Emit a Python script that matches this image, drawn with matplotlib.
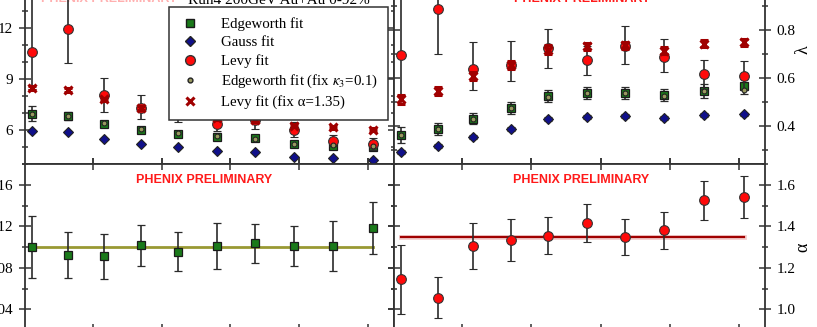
import numpy as np
import matplotlib
matplotlib.use('Agg')
import matplotlib.pyplot as plt
from matplotlib.ticker import MultipleLocator
from matplotlib.lines import Line2D

plt.rcParams['font.family'] = 'Liberation Serif'
plt.rcParams['mathtext.fontset'] = 'stix'

# pair kT bins, shared by all four panels
kt = [0.211, 0.264, 0.316, 0.370, 0.424, 0.480, 0.536, 0.592, 0.649, 0.707]

# top left: source radius
r_edge = [6.97, 6.82, 6.35, 6.02, 5.78, 5.61, 5.52, 5.15, 5.07, 5.01]
r_edge_err = [0.45, 0.25, 0.2, 0.18, 0.15, 0.2, 0.15, 0.15, 0.2, 0.2]
r_gauss = [5.96, 5.87, 5.48, 5.17, 4.99, 4.78, 4.68, 4.41, 4.37, 4.25]
r_gauss_err = [0.06, 0.06, 0.06, 0.05, 0.05, 0.05, 0.05, 0.05, 0.05, 0.05]
r_levy = [10.6, 11.94, 8.08, 7.3, 7.1, 6.35, 6.6, 6.02, 5.38, 5.17]
r_levy_lo = [2.2, 2.0, 1.0, 0.65, 0.65, 0.4, 0.55, 0.43, 0.33, 0.35]
r_levy_hi = [3.5, 2.0, 1.0, 0.75, 0.65, 0.4, 0.55, 0.43, 0.33, 0.35]
r_edge_k3 = [6.95, 6.85, 6.4, 6.05, 5.8, 5.65, 5.5, 5.2, 5.1, 5.05]
r_levy_a = [8.48, 8.35, 7.81, 7.3, 7.05, 6.7, 6.58, 6.25, 6.16, 6.02]
r_levy_a_err = [0.12, 0.1, 0.1, 0.1, 0.1, 0.1, 0.1, 0.1, 0.08, 0.08]

# top right: lambda
l_edge = [0.3625, 0.386, 0.43, 0.474, 0.522, 0.535, 0.536, 0.528, 0.546, 0.564]
l_edge_err = [0.033, 0.025, 0.025, 0.025, 0.025, 0.025, 0.025, 0.025, 0.03, 0.03]
l_gauss = [0.29, 0.314, 0.354, 0.386, 0.429, 0.436, 0.439, 0.433, 0.446, 0.447]
l_gauss_err = [0.008, 0.008, 0.008, 0.008, 0.008, 0.008, 0.008, 0.008, 0.008, 0.008]
l_levy = [0.694, 0.888, 0.638, 0.655, 0.724, 0.674, 0.733, 0.686, 0.614, 0.608]
l_levy_lo = [0.165, 0.19, 0.087, 0.068, 0.085, 0.064, 0.076, 0.063, 0.06, 0.06]
l_levy_hi = [0.3, 0.19, 0.112, 0.1, 0.078, 0.06, 0.085, 0.077, 0.061, 0.062]
l_edge_k3 = [0.36, 0.385, 0.43, 0.475, 0.52, 0.535, 0.535, 0.525, 0.545, 0.55]
l_levy_a = [0.51, 0.545, 0.607, 0.655, 0.718, 0.732, 0.735, 0.714, 0.743, 0.749]
l_levy_a_err = [0.02, 0.017, 0.017, 0.017, 0.017, 0.015, 0.015, 0.015, 0.015, 0.015]

# bottom left: kappa3 from Edgeworth fit
k3 = [0.0997, 0.092, 0.091, 0.1016, 0.0955, 0.101, 0.1036, 0.101, 0.101, 0.1186]
k3_err = [0.03, 0.022, 0.0215, 0.02, 0.019, 0.022, 0.019, 0.0195, 0.024, 0.025]
k3_fit = 0.1

# bottom right: Levy index alpha
alpha = [1.144, 1.056, 1.305, 1.334, 1.355, 1.416, 1.348, 1.38, 1.525, 1.542]
alpha_err = [0.165, 0.1, 0.11, 0.1, 0.09, 0.093, 0.087, 0.088, 0.095, 0.1]
alpha_fit = 1.35

W, H = 817, 327
fig = plt.figure(figsize=(W / 100, H / 100), dpi=100)

def px_axes(x0, x1, ytop, ybot):
  return fig.add_axes([x0 / W, (H - ybot) / H, (x1 - x0) / W, (ybot - ytop) / H])

ax_r = px_axes(25, 394, -6, 164)
ax_l = px_axes(394, 765, -6, 164)
ax_k = px_axes(25, 394, 164, 330)
ax_a = px_axes(394, 765, 164, 330)

ecol = '#2b2b2b'
eb = dict(ecolor=ecol, elinewidth=1.2, capsize=3.2, capthick=1.2, linestyle='none')

def style(ax, right=False):
  ax.set_xlim(0.201, 0.738)
  ax.xaxis.set_major_locator(MultipleLocator(0.1))
  ax.tick_params(which='both', direction='inout', top=True, right=True, left=True,
                 bottom=True, labelbottom=False, labelsize=11, colors='#333333',
                 labelcolor='black', width=1.1)
  ax.tick_params(which='major', length=9, pad=4)
  ax.tick_params(which='minor', length=5)
  if right:
    ax.tick_params(labelleft=False, labelright=True)
    ax.yaxis.set_label_position('right')
  for s in ax.spines.values():
    s.set_linewidth(1.3)
    s.set_color('#333333')

def prelim(ax, x, y, color='#ff1a1a'):
  ax.text(x, y, 'PHENIX PRELIMINARY', transform=ax.transAxes, ha='center',
          va='center', color=color, fontsize=9, fontweight='bold', family='Liberation Sans')

def draw_set(ax, ge, gee, gs, gse, lv, lvlo, lvhi, ek, la, lae):
  ax.errorbar(kt, gs, yerr=gse, fmt='D', ms=5, mfc='#10108a', mec='#222222', mew=0.8, zorder=3, **eb)
  ax.errorbar(kt, ge, yerr=gee, fmt='s', ms=5.5, mfc='#1a7a1a', mec='#1a1a1a', mew=0.9, zorder=3, **eb)
  ax.errorbar(kt, lv, yerr=[lvlo, lvhi], fmt='o', ms=7, mfc='#ff0a0a', mec='#333333', mew=0.8, zorder=4, **eb)
  ax.plot(kt, ek, 'o', ms=3.5, mfc='#9a9a60', mec='#222222', mew=0.8, zorder=5)
  ax.errorbar(kt, la, yerr=lae, fmt='x', ms=6, mec='#a00000', mew=2.2, ecolor='#a00000',
              elinewidth=1.2, capsize=3.2, capthick=1.2, linestyle='none', zorder=6)

# top left: radius
draw_set(ax_r, r_edge, r_edge_err, r_gauss, r_gauss_err, r_levy, r_levy_lo, r_levy_hi,
         r_edge_k3, r_levy_a, r_levy_a_err)
style(ax_r)
ax_r.set_ylim(4, 14)
ax_r.yaxis.set_major_locator(MultipleLocator(3))
ax_r.yaxis.set_minor_locator(MultipleLocator(1))
prelim(ax_r, 0.228, 0.97, color='#ffb0b0')

handles = [
  Line2D([], [], marker='s', ms=5.5, mfc='#1a7a1a', mec='#1a1a1a', ls='none'),
  Line2D([], [], marker='D', ms=5, mfc='#10108a', mec='#222222', ls='none'),
  Line2D([], [], marker='o', ms=7, mfc='#ff0a0a', mec='#333333', ls='none'),
  Line2D([], [], marker='o', ms=3.5, mfc='#9a9a60', mec='#222222', ls='none'),
  Line2D([], [], marker='x', ms=6, mec='#a00000', mew=2.2, ls='none'),
]
labels = ['Edgeworth fit', 'Gauss fit', 'Levy fit', 'Edgeworth fit (fix $\\kappa_3$=0.1)',
          'Levy fit (fix \u03b1=1.35)']
leg = ax_r.legend(handles, labels, loc='upper left', bbox_to_anchor=(0.39, 0.9235),
                  borderaxespad=0, fontsize=10.7, frameon=True, fancybox=False,
                  framealpha=1, edgecolor='#333333', handlelength=1.5, handletextpad=1.3,
                  labelspacing=0.33, borderpad=0.7)
leg.get_frame().set_linewidth(1.1)
leg.set_zorder(10)
fig.text(279 / W, (H - 4) / H, 'Run4 200GeV Au+Au 0-92%', ha='center', va='baseline', fontsize=11)

# top right: lambda
draw_set(ax_l, l_edge, l_edge_err, l_gauss, l_gauss_err, l_levy, l_levy_lo, l_levy_hi,
         l_edge_k3, l_levy_a, l_levy_a_err)
style(ax_l, right=True)
ax_l.set_ylim(0.24, 0.95)
ax_l.yaxis.set_major_locator(MultipleLocator(0.2))
ax_l.yaxis.set_minor_locator(MultipleLocator(0.1))
ax_l.set_ylabel('\u03bb', fontsize=13, rotation=90)
ax_l.yaxis.set_label_coords(1.08, 0.67)
prelim(ax_l, 0.507, 0.97)

# bottom left: kappa3
ax_k.plot([kt[0], kt[-1]], [k3_fit, k3_fit], color='#999933', lw=2, zorder=2)
ax_k.errorbar(kt, k3, yerr=k3_err, fmt='s', ms=5.5, mfc='#1a7a1a', mec='#1a1a1a', mew=0.9, zorder=3, **eb)
style(ax_k)
ax_k.set_ylim(0.02, 0.18)
ax_k.yaxis.set_major_locator(MultipleLocator(0.04))
ax_k.yaxis.set_minor_locator(MultipleLocator(0.02))
prelim(ax_k, 0.485, 0.904)

# bottom right: alpha
ax_a.plot([kt[0], kt[-1]], [alpha_fit, alpha_fit], color='#f4d0d0', lw=3.5, zorder=1)
ax_a.plot([kt[0], kt[-1]], [alpha_fit, alpha_fit], color='#a00000', lw=1.6, zorder=2)
ax_a.errorbar(kt, alpha, yerr=alpha_err, fmt='o', ms=7, mfc='#ff0a0a', mec='#333333', mew=0.8, zorder=3, **eb)
style(ax_a, right=True)
ax_a.set_ylim(0.9, 1.7)
ax_a.yaxis.set_major_locator(MultipleLocator(0.2))
ax_a.yaxis.set_minor_locator(MultipleLocator(0.1))
ax_a.set_ylabel('\u03b1', fontsize=13, rotation=90)
ax_a.yaxis.set_label_coords(1.08, 0.5)
prelim(ax_a, 0.505, 0.904)

fig.savefig('out.png', dpi=100)
